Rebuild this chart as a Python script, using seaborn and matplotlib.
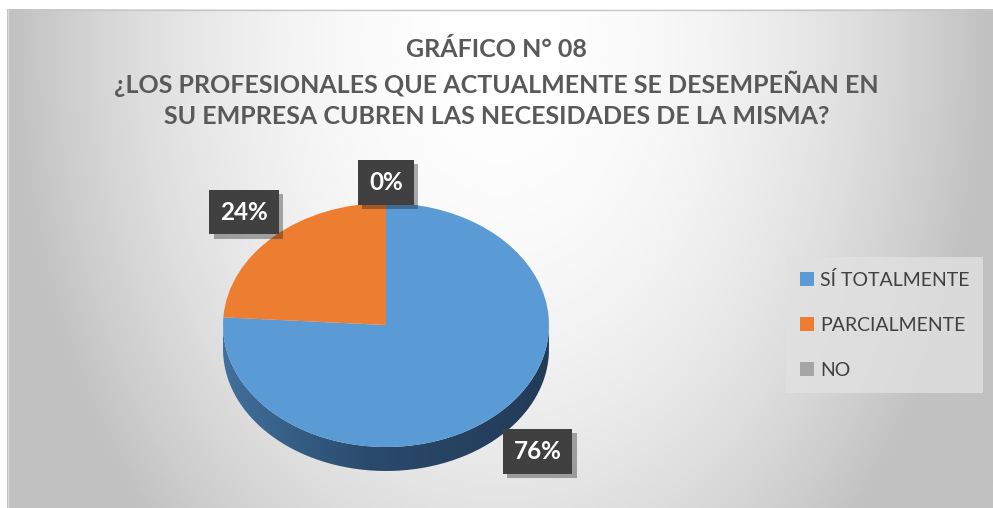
import numpy as np
import matplotlib
matplotlib.use('Agg')
import matplotlib.pyplot as plt
import matplotlib.patheffects as pe
from matplotlib.path import Path
import seaborn as sns

# Data
categorias = ['SÍ TOTALMENTE', 'PARCIALMENTE', 'NO']
porcentajes = [76, 24, 0]
titulo = 'GRÁFICO N° 08\n¿LOS PROFESIONALES QUE ACTUALMENTE SE DESEMPEÑAN EN\nSU EMPRESA CUBREN LAS NECESIDADES DE LA MISMA?'

sns.set_theme(style='white')
plt.rcParams['font.family'] = ['Lato', 'DejaVu Sans']
colores = sns.color_palette(['#5B9BD5', '#ED7D31', '#A5A5A5'])

W, H = 993, 508
fig = plt.figure(figsize=(W / 100, H / 100), dpi=100)
fig.patch.set_facecolor('white')

# Background with radial gradient
bg = fig.add_axes([0, 0, 1, 1])
bg.set_xlim(0, W)
bg.set_ylim(H, 0)
bg.axis('off')
xx, yy = np.meshgrid(np.linspace(7, W, 400), np.linspace(9, H, 200))
d2 = ((xx - 500) / 490) ** 2 + ((yy - 40) / 700) ** 2
val = 255 - 62 * np.clip(d2, 0, 1)
img = np.dstack([val, val, val]) / 255
bg.imshow(img, extent=[7, W, H, 9], aspect='auto', zorder=0)
bg.plot([7, W], [9.5, 9.5], color='#c8c8c8', lw=1)
bg.plot([7.5, 7.5], [9, H], color='#d9d9d9', lw=1)

# Pie axes (elliptical to fake 3D)
cx, cy, rx, ry = 386, 325, 163, 122
xl, yb, yt = 1.2, -1.45, 1.2
ax = fig.add_axes([(cx - xl * rx) / W, (H - cy + yb * ry) / H,
                   2 * xl * rx / W, (yt - yb) * ry / H])
ax.patch.set_alpha(0)

wedges, texts, autotexts = ax.pie(
    porcentajes, colors=colores, startangle=90, counterclock=False,
    autopct=lambda p: f'{p:.0f}%', pctdistance=1.27,
    wedgeprops=dict(linewidth=0, zorder=3),
    textprops=dict(color='white', fontsize=17.5, fontweight='bold'))
ax.set_aspect('auto')
ax.set_xlim(-xl, xl)
ax.set_ylim(yb, yt)
ax.axis('off')

# Side of the pie
depth = 24 / ry
t = np.linspace(np.pi, 2 * np.pi, 200)
vx = np.concatenate([np.cos(t), np.cos(t[::-1])])
vy = np.concatenate([np.sin(t), np.sin(t[::-1]) - depth])
side = Path(np.column_stack([vx, vy]))
gx = np.linspace(0, 1, 200)
grad = np.array([np.interp(gx, [0, 0.45, 1], [c0, c1, c2]) for c0, c1, c2 in
                 zip((0x40, 0x70, 0x9c), (0x2a, 0x4a, 0x6c), (0x22, 0x3b, 0x57))]).T
side_img = ax.imshow(grad[np.newaxis, :, :] / 255, extent=[-1, 1, -1 - depth, 0],
                     aspect='auto', zorder=2)
side_img.set_clip_path(side, transform=ax.transData)
ax.set_xlim(-xl, xl)
ax.set_ylim(yb, yt)

# Labels in dark boxes
for w, txt in zip(wedges, autotexts):
    mid = np.deg2rad((w.theta1 + w.theta2) / 2)
    x, y = txt.get_position()
    if np.sin(mid) < -0.1:
        txt.set_position((x + 0.06, y - 0.55 * depth))
    elif abs(np.cos(mid)) < 0.1:
        txt.set_position((x, y - 0.1))
    txt.set_bbox(dict(boxstyle='square,pad=0.45', fc='#404040', ec='none'))
    txt.get_bbox_patch().set_path_effects(
        [pe.SimplePatchShadow(offset=(3, -3), alpha=0.35), pe.Normal()])
    txt.set_zorder(5)

# Title
fig.text(0.5, 1 - 83 / H, titulo, ha='center', va='center', fontsize=18,
         fontweight='bold', color='#595959', linespacing=1.45)

# Legend
leg = fig.legend(wedges, categorias, loc='upper left',
                 bbox_to_anchor=(786 / W, 1 - 257 / H), borderaxespad=0,
                 frameon=True, fancybox=False, fontsize=14,
                 handlelength=0.72, handleheight=0.72, handletextpad=0.3,
                 labelspacing=1.43, borderpad=0.72, labelcolor='#404040')
leg.get_frame().set_facecolor('#e1e1e1')
leg.get_frame().set_edgecolor('none')

fig.savefig('out.png', dpi=100)
